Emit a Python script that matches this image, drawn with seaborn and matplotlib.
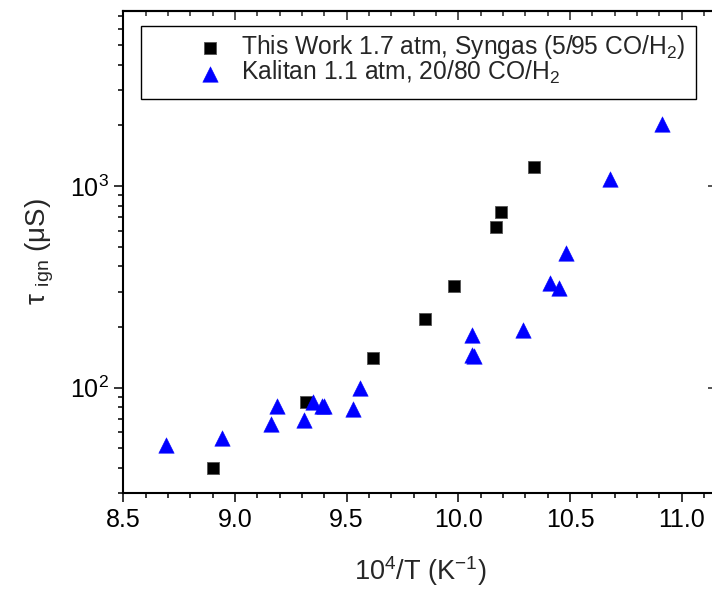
import numpy as np
import pandas as pd
import matplotlib
matplotlib.use("Agg")
import matplotlib.pyplot as plt
from matplotlib.ticker import LogLocator, MultipleLocator, NullFormatter
from matplotlib.patches import Rectangle
import seaborn as sns

# ---- data ----
work_x = [8.90, 9.32, 9.62, 9.85, 9.98, 10.17, 10.19, 10.34]
work_y = [40, 85, 140, 218, 320, 628, 745, 1240]

kal_x = [8.69, 8.94, 9.16, 9.19, 9.31, 9.35, 9.39, 9.40, 9.53, 9.56,
         10.06, 10.06, 10.07, 10.29, 10.41, 10.45, 10.48, 10.68, 10.91]
kal_y = [52, 56, 66, 81, 69, 85, 81, 81, 78, 100,
         182, 145, 143, 193, 331, 314, 467, 1090, 2030]

work_label = "This Work 1.7 atm, Syngas (5/95 CO/H$_2$)"
kal_label = "Kalitan 1.1 atm, 20/80 CO/H$_2$"

x_ticks = [8.5, 9.0, 9.5, 10.0, 10.5, 11.0]
x_ticklabels = ["8.5", "9.0", "9.5", "10.0", "10.5", "11.0"]

sns.set_theme(style="ticks")
plt.rcParams["font.family"] = ["Liberation Sans", "DejaVu Sans"]
plt.rcParams["mathtext.fontset"] = "custom"
plt.rcParams["mathtext.rm"] = "Liberation Sans"
plt.rcParams["mathtext.it"] = "Liberation Sans:italic"
plt.rcParams["mathtext.bf"] = "Liberation Sans:bold"

W, H = 712, 590
fig = plt.figure(figsize=(W / 100, H / 100), dpi=100)
left, right, top, bottom = 123.3, 717.0, 11.0, 493.0
ax = fig.add_axes([left / W, (H - bottom) / H, (right - left) / W, (bottom - top) / H])

df_w = pd.DataFrame({"x": work_x, "y": work_y})
df_k = pd.DataFrame({"x": kal_x, "y": kal_y})

sns.scatterplot(data=df_w, x="x", y="y", ax=ax, marker="s", s=80,
                color="black", edgecolor="#555555", linewidth=0.6,
                label=work_label, zorder=3)
sns.scatterplot(data=df_k, x="x", y="y", ax=ax, marker="^", s=125,
                color="#0000ff", edgecolor="#0000ff", linewidth=0.3,
                label=kal_label, zorder=3)

ax.set_yscale("log")
ax.set_xlim(8.5, 11.158)
ax.set_ylim(30, 7400)

ax.set_xticks(x_ticks)
ax.set_xticklabels(x_ticklabels)
ax.xaxis.set_minor_locator(MultipleLocator(0.1))
ax.yaxis.set_major_locator(LogLocator(base=10, numticks=10))
ax.yaxis.set_minor_locator(LogLocator(base=10, subs=np.arange(2, 10), numticks=20))
ax.yaxis.set_minor_formatter(NullFormatter())

for sp in ax.spines.values():
    sp.set_linewidth(1.5)
    sp.set_color("black")
    sp.set_visible(True)

ax.tick_params(axis="both", which="major", direction="out", length=6.5, width=1.1,
               labelsize=18, colors="black", pad=4)
ax.tick_params(axis="both", which="minor", direction="out", length=3.6, width=1.1,
               colors="black")

# mirrored ticks on top/right, pointing inward
secx = ax.secondary_xaxis("top")
secx.set_xticks(x_ticks)
secx.xaxis.set_minor_locator(MultipleLocator(0.1))
secx.tick_params(axis="x", which="major", direction="in", length=6.5, width=1.1,
                 labeltop=False)
secx.tick_params(axis="x", which="minor", direction="in", length=3.6, width=1.1)
secx.spines["top"].set_linewidth(1.5)

secy = ax.secondary_yaxis("right")
secy.yaxis.set_major_locator(LogLocator(base=10, numticks=10))
secy.yaxis.set_minor_locator(LogLocator(base=10, subs=np.arange(2, 10), numticks=20))
secy.tick_params(axis="y", which="major", direction="in", length=6.5, width=1.1,
                 labelright=False)
secy.tick_params(axis="y", which="minor", direction="in", length=3.6, width=1.1,
                 labelright=False)
secy.yaxis.set_minor_formatter(NullFormatter())
secy.yaxis.set_major_formatter(NullFormatter())

ax.set_xlabel("10$^4$/T (K$^{-1}$)", fontsize=19.5, labelpad=16)
ax.set_ylabel("τ $_{\\rm ign}$ (μS)", fontsize=20, labelpad=10)

# legend (frame drawn separately to match reference box)
leg = ax.legend(loc="upper left", bbox_to_anchor=((199 - left) / (right - left), (bottom - 33) / (bottom - top)),
                frameon=False, fontsize=17.7, handlelength=0.9, handletextpad=0.81,
                borderpad=0.0, labelspacing=-0.08, markerscale=1.0, borderaxespad=0)
box = Rectangle(((141 - left) / (right - left), (bottom - 99) / (bottom - top)),
                (696 - 141) / (right - left), (99 - 26) / (bottom - top),
                transform=ax.transAxes, fill=False, edgecolor="black", linewidth=1.0, zorder=4)
ax.add_patch(box)

fig.savefig("out.png", dpi=100)
